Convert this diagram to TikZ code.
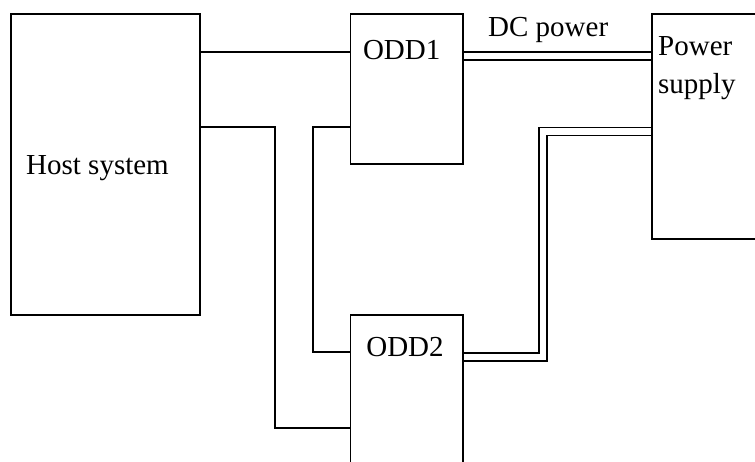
\documentclass[tikz,border=0pt]{standalone}
\usepackage{fontspec}
\setmainfont{Liberation Serif}
\usetikzlibrary{backgrounds}
\tikzset{
  blk/.style={draw=black, line width=1.4pt, fill=white, inner sep=0pt, outer sep=0pt},
  wire/.style={draw=black, line width=1.4pt, line join=miter},
  power/.style={draw=black, line width=1.4pt, double=white, double distance=6.5pt, line join=miter},
  lbl/.style={anchor=base west, inner sep=0pt, font=\fontsize{29}{38}\selectfont}
}
\begin{document}
\begin{tikzpicture}[x=1pt, y=-1pt]
\useasboundingbox (0,0) rectangle (755,461);
\clip (0,0) rectangle (755,461);
% boxes
\node[blk, minimum width=189pt, minimum height=301pt] (host) at (105.5,164.5) {};
\node[blk, minimum width=112.5pt, minimum height=150pt] (odd1) at (406.75,89) {};
\node[blk, minimum width=112.5pt, minimum height=185pt] (odd2) at (406.75,407.5) {};
\node[blk, minimum width=148pt, minimum height=225pt] (ps) at (726,126.5) {};
% texts
\node[lbl] (hosttext) at (26,174) {Host system};
\node[lbl, anchor=base] (odd1text) at (401.7,59) {ODD1};
\node[lbl, anchor=base] (odd2text) at (405,356) {ODD2};
\node[lbl] (pstext1) at (658,55) {Power};
\node[lbl] (pstext2) at (658,93) {supply};
\node[lbl] (dctext) at (488,36) {DC power};
% connectors
\begin{scope}[on background layer]
\draw[wire] (host.east |- 0,52) -- (odd1.west |- 0,52);
\draw[wire] (host.east |- 0,127) -- (275,127) -- (275,428) -- (odd2.west |- 0,428);
\draw[wire] (odd1.west |- 0,127) -- (313,127) -- (313,352) -- (odd2.west |- 0,352);
\draw[power] (odd1.east |- 0,56) -- (ps.west |- 0,56);
\draw[power] (odd2.east |- 0,357) -- (543,357) -- (543,131.5) -- (ps.west |- 0,131.5);
\end{scope}
\end{tikzpicture}
\end{document}
